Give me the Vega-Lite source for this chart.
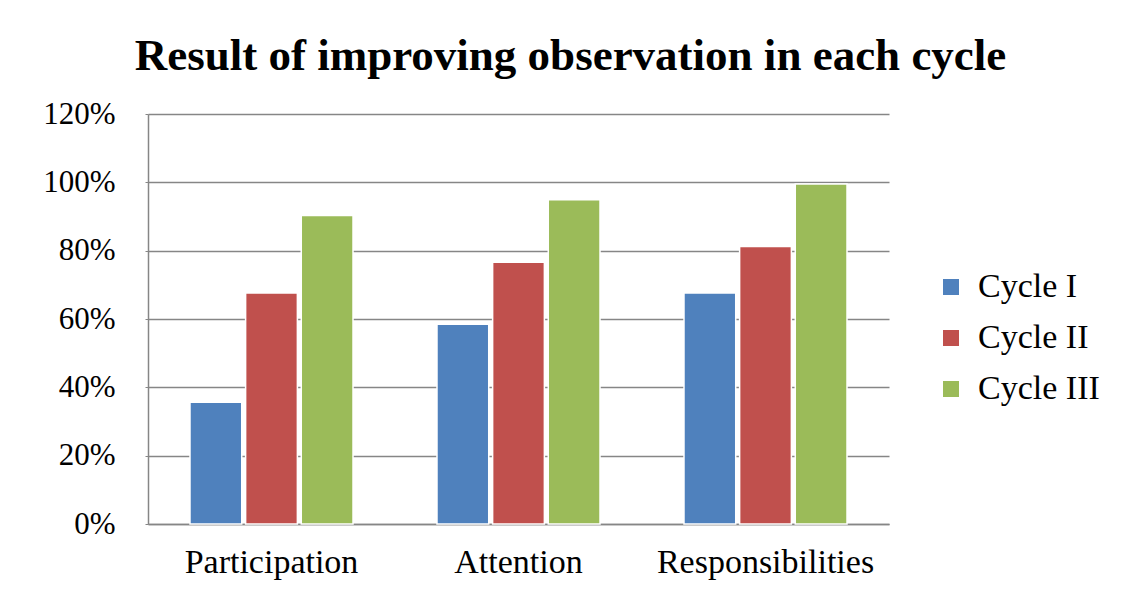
{
  "$schema": "https://vega.github.io/schema/vega-lite/v6.json",
  "width": 741,
  "height": 410,
  "autosize": {"type": "none"},
  "padding": {"left": 148, "top": 114, "right": 237, "bottom": 67},
  "background": "white",
  "title": {
    "text": "Result of improving observation in each cycle",
    "font": "Liberation Serif",
    "fontSize": 45,
    "fontWeight": "bold",
    "color": "#000000",
    "anchor": "middle",
    "dx": 52,
    "offset": 19
  },
  "data": {
    "values": [
      {"aspect": "Participation", "cycle": "Cycle I", "value": 0.356},
      {"aspect": "Participation", "cycle": "Cycle II", "value": 0.676},
      {"aspect": "Participation", "cycle": "Cycle III", "value": 0.903},
      {"aspect": "Attention", "cycle": "Cycle I", "value": 0.585},
      {"aspect": "Attention", "cycle": "Cycle II", "value": 0.766},
      {"aspect": "Attention", "cycle": "Cycle III", "value": 0.949},
      {"aspect": "Responsibilities", "cycle": "Cycle I", "value": 0.676},
      {"aspect": "Responsibilities", "cycle": "Cycle II", "value": 0.812},
      {"aspect": "Responsibilities", "cycle": "Cycle III", "value": 0.995}
    ]
  },
  "mark": {"type": "bar", "stroke": "white", "strokeWidth": 1.5},
  "encoding": {
    "x": {
      "field": "aspect",
      "type": "nominal",
      "sort": ["Participation", "Attention", "Responsibilities"],
      "scale": {"paddingInner": 0.34, "paddingOuter": 0.17},
      "axis": {
        "title": null,
        "labelAngle": 0,
        "labelFont": "Liberation Serif",
        "labelFontSize": 34,
        "labelColor": "#000000",
        "labelPadding": 21,
        "labelLimit": 0,
        "labelOverlap": false,
        "ticks": false,
        "domainColor": "#868686",
        "domainWidth": 1.5
      }
    },
    "xOffset": {
      "field": "cycle",
      "type": "nominal",
      "sort": ["Cycle I", "Cycle II", "Cycle III"],
      "scale": {"paddingInner": 0.07}
    },
    "y": {
      "field": "value",
      "type": "quantitative",
      "scale": {"domain": [0, 1.2]},
      "axis": {
        "title": null,
        "values": [0, 0.2, 0.4, 0.6, 0.8, 1.0, 1.2],
        "format": ".0%",
        "labelFont": "Liberation Serif",
        "labelFontSize": 31,
        "labelColor": "#000000",
        "labelPadding": 30,
        "tickSize": 3,
        "tickColor": "#868686",
        "domainColor": "#868686",
        "domainWidth": 1.5,
        "gridColor": "#868686",
        "gridWidth": 1.5
      }
    },
    "color": {
      "field": "cycle",
      "type": "nominal",
      "sort": ["Cycle I", "Cycle II", "Cycle III"],
      "scale": {
        "domain": ["Cycle I", "Cycle II", "Cycle III"],
        "range": ["#4F81BD", "#C0504D", "#9BBB59"]
      },
      "legend": {
        "title": null,
        "orient": "none",
        "legendX": 786,
        "legendY": 156,
        "symbolType": "square",
        "symbolSize": 256,
        "symbolStrokeWidth": 0,
        "labelFont": "Liberation Serif",
        "labelFontSize": 34,
        "labelColor": "#000000",
        "rowPadding": 17,
        "labelOffset": 10
      }
    }
  },
  "config": {
    "view": {"stroke": null}
  }
}
